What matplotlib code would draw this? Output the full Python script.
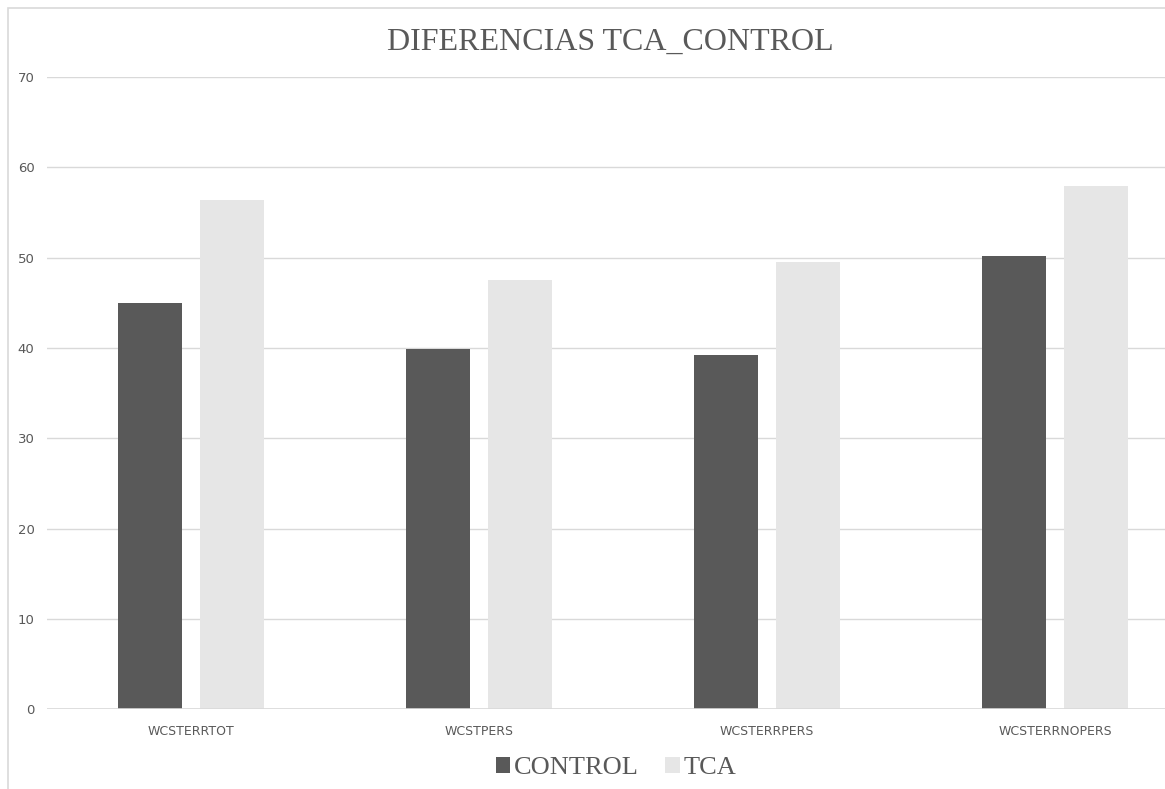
import numpy as np
import matplotlib
matplotlib.use("Agg")
import matplotlib.pyplot as plt
from matplotlib.patches import Rectangle

categories = ["WCSTERRTOT", "WCSTPERS", "WCSTERRPERS", "WCSTERRNOPERS"]
control = [45.0, 39.9, 39.2, 50.2]
tca = [56.4, 47.5, 49.5, 57.9]
series_names = ["CONTROL", "TCA"]
yticks = [0, 10, 20, 30, 40, 50, 60, 70]

W, H = 1165, 789
fig = plt.figure(figsize=(W / 100, H / 100), dpi=100)

narrow = ["Liberation Sans Narrow", "DejaVu Sans"]
serif = ["Liberation Serif", "DejaVu Serif"]
txt = "#595959"
grid = "#d9d9d9"
c_control = "#595959"
c_tca = "#e6e6e6"

# chart frame (cropped on the right and bottom)
fig.patches.append(Rectangle((8 / W, -0.1), 1.2, 1 - 8 / H + 0.1, transform=fig.transFigure,
                             fill=False, ec="#d9d9d9", lw=1.2))

# plot area, one category every 288 px
ax = fig.add_axes([47 / W, (H - 709.3) / H, 1152 / W, (709.3 - 77) / H])
x = np.arange(len(categories))
bw = 0.222
off = 0.142
ax.bar(x - off, control, bw, color=c_control, zorder=3, label=series_names[0])
ax.bar(x + off, tca, bw, color=c_tca, zorder=3, label=series_names[1])

ax.set_xlim(-0.5, len(categories) - 0.5)
ax.set_ylim(0, 70)
ax.set_yticks(yticks)
ax.set_yticklabels([str(v) for v in yticks], family=narrow, fontsize=9.5, color=txt)
ax.set_xticks(x)
ax.set_xticklabels(categories, family=narrow, fontsize=9, color=txt)
ax.tick_params(length=0, axis="y", pad=9)
ax.tick_params(length=0, axis="x", pad=11)
ax.yaxis.grid(True, color=grid, lw=1.0, zorder=0)
for s in ax.spines.values():
    s.set_visible(False)
ax.axhline(0, color=grid, lw=1.2, zorder=4)

fig.text(610 / W, 1 - 42 / H, "DIFERENCIAS TCA_CONTROL", family=serif, fontsize=23,
         color=txt, ha="center", va="center")

leg = fig.legend(loc="center", bbox_to_anchor=(616 / W, 1 - 768 / H), ncol=2, frameon=False,
                 prop={"family": serif, "size": 19}, handlelength=0.55, handleheight=0.55,
                 handletextpad=0.15, columnspacing=1.0)
for t in leg.get_texts():
    t.set_color(txt)

fig.savefig("out.png", dpi=100)
